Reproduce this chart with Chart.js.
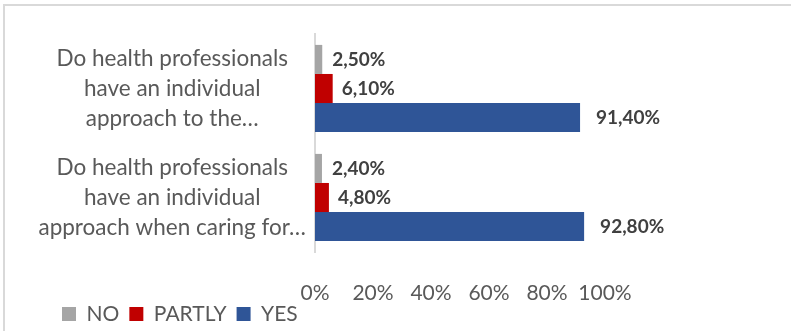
<!DOCTYPE html>
<html>
<head>
<meta charset="utf-8">
<script src="https://cdn.jsdelivr.net/npm/chart.js@4.4.1/dist/chart.umd.min.js"></script>
<style>
  html, body { margin: 0; padding: 0; background: #ffffff; }
  #wrap { position: relative; width: 791px; height: 331px; overflow: hidden; }
  #frame { position: absolute; left: 3px; top: 4px; width: 820px; height: 400px;
           border-left: 2px solid #d9d9d9; border-top: 2px solid #d9d9d9; }
  canvas { position: absolute; left: 0; top: 0; }
</style>
</head>
<body>
<div id="wrap">
  <div id="frame"></div>
  <canvas id="chart" width="791" height="331"></canvas>
</div>
<script>
// Survey answers, in percent
const categories = [
  ['Do health professionals', 'have an individual', 'approach to the…'],
  ['Do health professionals', 'have an individual', 'approach when caring for…']
];
const seriesNames = ['NO', 'PARTLY', 'YES'];
const noValues = [2.5, 2.4];
const partlyValues = [6.1, 4.8];
const yesValues = [91.4, 92.8];
const xTickValues = [0, 20, 40, 60, 80, 100];

const seriesColors = ['#a5a5a5', '#c00000', '#2f5597'];
const labelGaps = [10, 9, 16];
const FONT = 'Lato';

// "91,40%" style labels
const formatPercent = v => v.toFixed(2).replace('.', ',') + '%';

// Value labels to the right of each bar end
const barValueLabels = {
  id: 'barValueLabels',
  afterDatasetsDraw(chart) {
    const ctx = chart.ctx;
    ctx.save();
    ctx.font = 'bold 19px ' + FONT;
    ctx.fillStyle = '#404040';
    ctx.textBaseline = 'middle';
    ctx.textAlign = 'left';
    chart.data.datasets.forEach((ds, i) => {
      chart.getDatasetMeta(i).data.forEach((bar, j) => {
        ctx.fillText(formatPercent(ds.data[j]), bar.x + labelGaps[i], bar.y);
      });
    });
    ctx.restore();
  }
};

// Legend sits just under the tick labels, indented under the category column
const legendPlacement = {
  id: 'legendPlacement',
  afterLayout(chart) {
    const lg = chart.legend;
    lg.left += 32; lg.right += 32;
    lg.top -= 9; lg.bottom -= 9;
  }
};

const seriesValues = [noValues, partlyValues, yesValues];

new Chart(document.getElementById('chart'), {
  type: 'bar',
  data: {
    labels: categories,
    datasets: seriesNames.map((name, i) => ({
      label: name,
      data: seriesValues[i],
      backgroundColor: seriesColors[i],
      borderWidth: 0,
      categoryPercentage: 0.8,
      barPercentage: 1.0
    }))
  },
  options: {
    indexAxis: 'y',
    responsive: false,
    animation: false,
    layout: { padding: { top: 34, left: 20, right: 186, bottom: -12.5 } },
    plugins: {
      tooltip: { enabled: false },
      legend: {
        position: 'bottom',
        align: 'start',
        labels: {
          boxWidth: 14,
          boxHeight: 14,
          padding: 10,
          color: '#595959',
          font: { family: FONT, size: 21 }
        }
      }
    },
    scales: {
      x: {
        min: 0,
        max: 100,
        afterBuildTicks: scale => { scale.ticks = xTickValues.map(v => ({ value: v })); },
        afterFit: scale => { scale.height = 50.5; },
        grid: { display: false, drawTicks: false },
        border: { display: false },
        ticks: {
          padding: 40,
          minRotation: 0,
          maxRotation: 0,
          autoSkip: false,
          color: '#595959',
          font: { family: FONT, size: 21, lineHeight: '2px' },
          callback: v => v + '%'
        }
      },
      y: {
        afterFit: scale => {
          scale.width = 295;
          // the category labels sit inside their bands; no extra room above/below
          scale.paddingTop = 0;
          scale.paddingBottom = 0;
        },
        grid: { display: false, drawTicks: false },
        border: { display: true, color: '#d9d9d9', width: 2 },
        ticks: {
          padding: 9,
          autoSkip: false,
          crossAlign: 'center',
          color: '#595959',
          font: { family: FONT, size: 22.5, lineHeight: '30px' }
        }
      }
    }
  },
  plugins: [barValueLabels, legendPlacement]
});
</script>
</body>
</html>
